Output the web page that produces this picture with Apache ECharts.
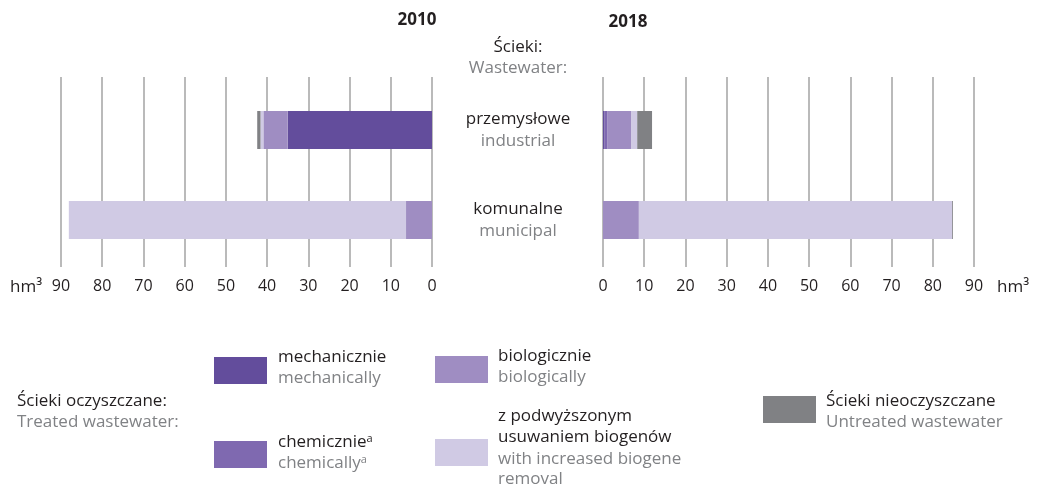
<!DOCTYPE html>
<html>
<head>
<meta charset="utf-8">
<script src="https://cdn.jsdelivr.net/npm/echarts@6/dist/echarts.min.js"></script>
<style>
  html, body { margin: 0; padding: 0; background: #fff; }
  #chart { width: 1039px; height: 488px; }
</style>
</head>
<body>
<div id="chart"></div>
<script>
// categories (pl / en)
const categories = ['przemysłowe', 'komunalne'];
const categoriesEn = ['industrial', 'municipal'];

// hm3, 2010
const mech2010 = [35.0, 0];
const chem2010 = [0, 0];
const bio2010 = [5.9, 6.3];
const biogene2010 = [0.7, 81.8];
const untreated2010 = [0.8, 0];

// hm3, 2018
const mech2018 = [0.4, 0];
const chem2018 = [0.6, 0];
const bio2018 = [5.8, 8.7];
const biogene2018 = [1.5, 76.0];
const untreated2018 = [3.6, 0.2];

const FONT = '"Open Sans", sans-serif';
const TXT = '17px ' + FONT;
const DARK = '#231f20';
const GREY = '#808285';

const colors = {
  mech: '#634d9c',
  chem: '#7f69b0',
  bio: '#9f8dc2',
  biogene: '#d0cae4',
  untreated: '#808184'
};

const chart = echarts.init(document.getElementById('chart'));

function stack(name, key, data, idx, st) {
  return {
    name: name,
    type: 'bar',
    stack: st,
    xAxisIndex: idx,
    yAxisIndex: idx,
    barWidth: 38,
    itemStyle: { color: colors[key] },
    data: data
  };
}

const lineX = (inverse, gi) => ({
  gridIndex: gi,
  type: 'value',
  min: 0,
  max: 90,
  interval: 10,
  inverse: inverse,
  axisLine: { show: false },
  axisTick: { show: false },
  splitLine: { show: true, lineStyle: { color: '#a3a3a3', width: 1.5 } },
  axisLabel: { color: DARK, fontSize: 16, fontFamily: FONT, margin: 11 }
});

const barX = (inverse, gi) => ({
  gridIndex: gi, type: 'value', min: 0, max: 90, inverse: inverse, show: false
});

// text helper for the legend and headers
function txt(x, y, text, fill, align) {
  return { type: 'text', x: x, y: y,
    style: { text: text, fill: fill, font: TXT, textAlign: align || 'left', textVerticalAlign: 'middle' } };
}
function sup(x, y, text, fill) {
  return { type: 'text', x: x, y: y,
    style: {
      text: '{m|' + text + '}{s|a}', textVerticalAlign: 'middle',
      rich: { m: { fill: fill, font: TXT }, s: { fill: fill, font: '11px ' + FONT, verticalAlign: 'top' } }
    } };
}
function swatch(x, y, key) {
  return { type: 'rect', shape: { x: x, y: y, width: 53, height: 27 }, style: { fill: colors[key] } };
}

const option = {
  backgroundColor: '#fff',
  animation: false,
  title: [
    { text: '2010', left: 412, top: 7, textAlign: 'center',
      textStyle: { fontFamily: FONT, fontSize: 17, fontWeight: 'bold', color: DARK } },
    { text: '2018', left: 623, top: 9, textAlign: 'center',
      textStyle: { fontFamily: FONT, fontSize: 17, fontWeight: 'bold', color: DARK } }
  ],
  grid: [
    { left: 61, right: 607, top: 77, height: 190 },  // left lines
    { left: 61, right: 607, top: 85, height: 180 },  // left bars
    { left: 603, right: 65, top: 77, height: 190 },  // right lines
    { left: 603, right: 65, top: 85, height: 180 }   // right bars
  ],
  xAxis: [lineX(true, 0), barX(true, 1), lineX(false, 2), barX(false, 3)],
  yAxis: [
    { gridIndex: 0, type: 'category', data: categories, inverse: true, show: false },
    {
      gridIndex: 1, type: 'category', data: categories, inverse: true, position: 'right',
      axisLine: { show: false }, axisTick: { show: false },
      axisLabel: {
        margin: 86,
        align: 'center',
        formatter: (v, i) => '{pl|' + v + '}\n{en|' + categoriesEn[i] + '}',
        rich: {
          pl: { fontFamily: FONT, fontSize: 17, color: DARK, lineHeight: 22, align: 'center' },
          en: { fontFamily: FONT, fontSize: 17, color: GREY, lineHeight: 22, align: 'center' }
        }
      }
    },
    { gridIndex: 2, type: 'category', data: categories, inverse: true, show: false },
    { gridIndex: 3, type: 'category', data: categories, inverse: true, show: false }
  ],
  series: [
    stack('mechanicznie', 'mech', mech2010, 1, 'a'),
    stack('chemicznie', 'chem', chem2010, 1, 'a'),
    stack('biologicznie', 'bio', bio2010, 1, 'a'),
    stack('z podwyższonym usuwaniem biogenów', 'biogene', biogene2010, 1, 'a'),
    stack('Ścieki nieoczyszczane', 'untreated', untreated2010, 1, 'a'),
    stack('mechanicznie', 'mech', mech2018, 3, 'b'),
    stack('chemicznie', 'chem', chem2018, 3, 'b'),
    stack('biologicznie', 'bio', bio2018, 3, 'b'),
    stack('z podwyższonym usuwaniem biogenów', 'biogene', biogene2018, 3, 'b'),
    stack('Ścieki nieoczyszczane', 'untreated', untreated2018, 3, 'b')
  ],
  graphic: [
    txt(518, 47, 'Ścieki:', DARK, 'center'),
    txt(518, 68, 'Wastewater:', GREY, 'center'),
    txt(10, 287, 'hm³', DARK),
    txt(997, 287, 'hm³', DARK),

    txt(17, 401, 'Ścieki oczyszczane:', DARK),
    txt(17, 422, 'Treated wastewater:', GREY),

    swatch(214, 357, 'mech'),
    txt(278, 357, 'mechanicznie', DARK),
    txt(278, 378, 'mechanically', GREY),

    swatch(214, 441, 'chem'),
    sup(278, 442, 'chemicznie', DARK),
    sup(278, 463, 'chemically', GREY),

    swatch(435, 356, 'bio'),
    txt(498, 356, 'biologicznie', DARK),
    txt(498, 377, 'biologically', GREY),

    swatch(435, 439, 'biogene'),
    txt(498, 416, 'z podwyższonym', DARK),
    txt(498, 437, 'usuwaniem biogenów', DARK),
    txt(498, 459, 'with increased biogene', GREY),
    txt(498, 479, 'removal', GREY),

    swatch(763, 396, 'untreated'),
    txt(826, 401, 'Ścieki nieoczyszczane', DARK),
    txt(826, 422, 'Untreated wastewater', GREY)
  ]
};

chart.setOption(option);
window.addEventListener('resize', () => chart.resize());
</script>
</body>
</html>
